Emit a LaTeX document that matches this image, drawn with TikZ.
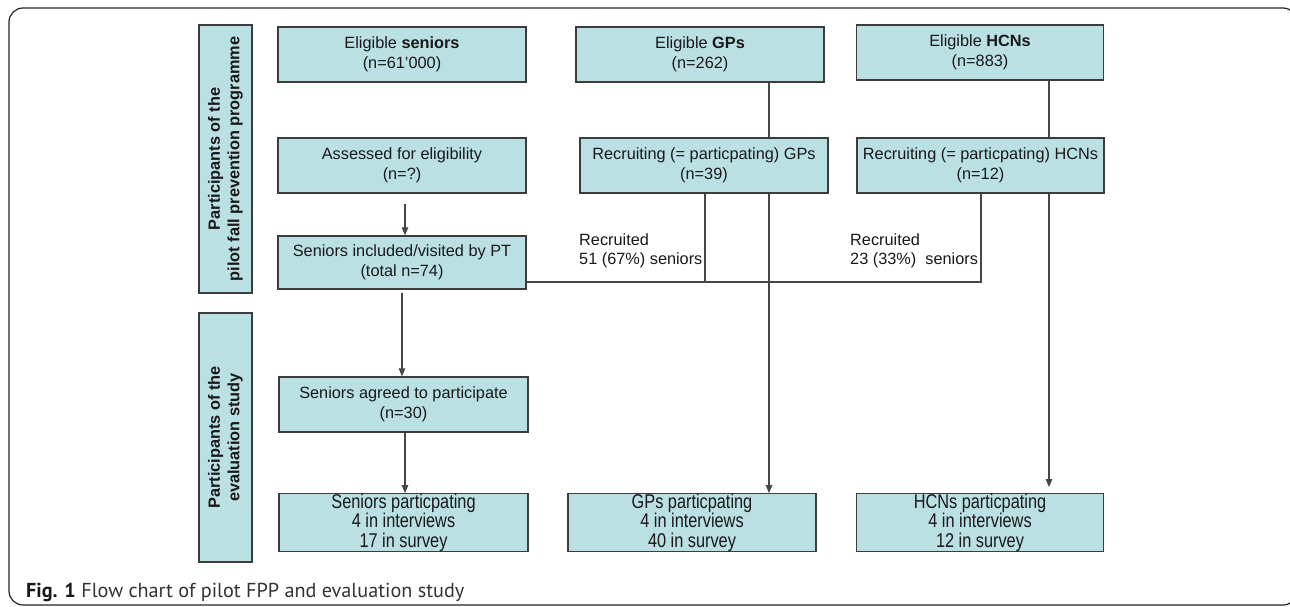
\documentclass[tikz,border=0pt]{standalone}
\usepackage{fontspec}
\setmainfont{Liberation Sans}
\newfontfamily\narrowfont[FakeStretch=0.82]{Liberation Sans}
\newfontfamily\capfont{PT Sans}
\usetikzlibrary{arrows.meta}
\definecolor{boxfill}{RGB}{186,224,228}
\definecolor{boxline}{RGB}{60,60,60}
\definecolor{connc}{RGB}{70,70,70}
\definecolor{txt}{RGB}{25,25,25}
\begin{document}
\begin{tikzpicture}[x=1pt,y=-1pt,
  box/.style={draw=boxline, line width=1.3pt, fill=boxfill, inner sep=0pt, align=center,
    text=txt, font=\fontsize{16.3}{19.5}\selectfont},
  wbox/.style={box, minimum width=248pt, minimum height=55pt},
  nbox/.style={box, minimum width=248pt, minimum height=55pt,
    font=\narrowfont\fontsize{19.9}{19.5}\selectfont},
  lblbox/.style={box, rotate=90, font=\bfseries\fontsize{16.3}{19.5}\selectfont,
    minimum height=53pt},
  conn/.style={draw=connc, line width=1.1pt},
  arr/.style={conn, -{Triangle[length=8pt,width=6.5pt]}},
  lab/.style={inner sep=0pt, align=left, anchor=west, text=txt,
    font=\fontsize{16.3}{19.5}\selectfont}]
\useasboundingbox (0,0) rectangle (1290,607);
\fill[white] (0,0) rectangle (1290,607);
% outer frame
\draw[line width=1.2pt, draw=black!85, rounded corners=14pt] (9,8) rectangle (1297,605);
% side labels
\node[lblbox, minimum width=268pt] (l1) at (225.5,159) {Participants of the\\pilot fall prevention programme};
\node[lblbox, minimum width=249pt] (l2) at (225.5,437.5) {Participants of the\\evaluation study};
% top row
\node[wbox] (es) at (402,54.5) {Eligible \textbf{seniors}\\(n=61’000)};
\node[wbox] (eg) at (700,54.5) {Eligible \textbf{GPs}\\(n=262)};
\node[wbox, minimum width=247pt] (eh) at (980,52.5) {Eligible \textbf{HCNs}\\(n=883)};
% second row
\node[wbox] (as) at (402,165.5) {Assessed for eligibility\\(n=?)};
\node[wbox] (rg) at (704,165.5) {Recruiting (= particpating) GPs\\(n=39)};
\node[wbox, minimum width=247pt] (rh) at (980.5,165.5) {Recruiting (= particpating) HCNs\\(n=12)};
% included
\node[wbox, minimum height=53pt] (inc) at (402,262.5) {Seniors included/visited by PT\\(total n=74)};
% agreed
\node[wbox, minimum width=249pt] (ag) at (403.5,404.5) {Seniors agreed to participate\\(n=30)};
% bottom row
\node[nbox, minimum width=249pt] (sp) at (403.5,522.5) {Seniors particpating\\4 in interviews\\17 in survey};
\node[nbox] (gp) at (692,522.5) {GPs particpating\\4 in interviews\\40 in survey};
\node[nbox, minimum width=247pt] (hp) at (980,522.5) {HCNs particpating\\4 in interviews\\12 in survey};
% recruited labels
\node[lab] (t1) at (579,251) {Recruited\\51 (67\%) seniors};
\node[lab] (t2) at (850,251) {Recruited\\23 (33\%)\ \ seniors};
% connectors seniors column
\coordinate (a1) at (405,204);
\draw[arr] (a1) -- (a1 |- inc.north);
\draw[arr] ([yshift=-3pt]inc.south) -- (inc.south |- ag.north);
\draw[arr] ([xshift=1.5pt]ag.south) -- ([xshift=1.5pt]ag.south |- sp.north);
% GP column
\coordinate (gx) at (769,0);
\draw[conn] (gx |- eg.south) -- (gx |- rg.north);
\draw[arr] (gx |- rg.south) -- (gx |- gp.north);
% HCN column
\coordinate (hx) at (1049,0);
\draw[conn] (hx |- eh.south) -- (hx |- rh.north);
\draw[arr] (hx |- rh.south) -- ([yshift=6pt]hx |- hp.north);
% recruited lines
\coordinate (r1) at (705,282);
\coordinate (r2) at (981,282);
\draw[conn] (r1 |- rg.south) -- (r1) -- (r1 -| inc.east);
\draw[conn] (r2 |- rh.south) -- (r2) -- (r2 -| inc.east);
% caption
\node[anchor=west, inner sep=0pt, text=black!80, font=\capfont\fontsize{20.2}{23}\selectfont] (cap) at (26,592)
  {\textbf{\color{black!90}Fig. 1} Flow chart of pilot FPP and evaluation study};
\end{tikzpicture}
\end{document}
